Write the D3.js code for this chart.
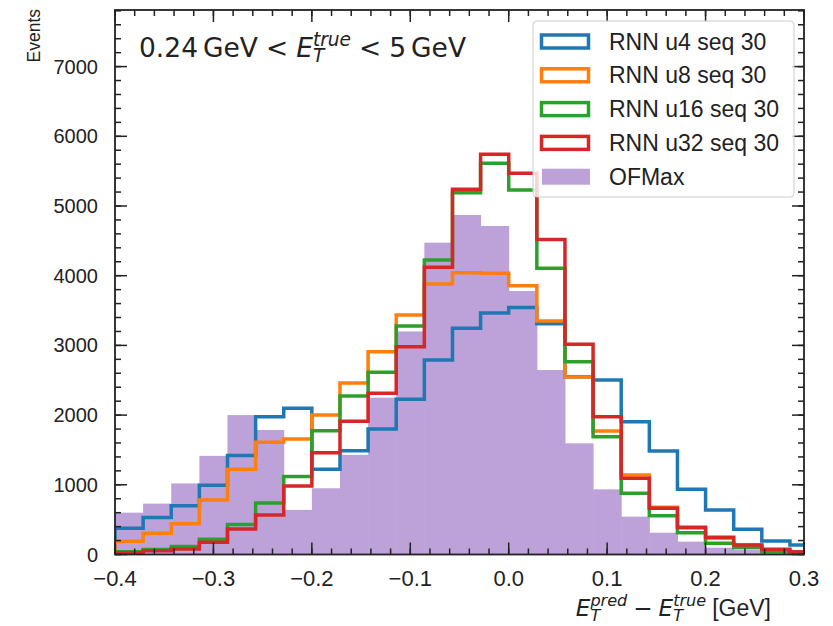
<!DOCTYPE html>
<html>
<head>
<meta charset="utf-8">
<script src="https://cdn.jsdelivr.net/npm/d3@7"></script>
<style>
  body { margin: 0; background: #fff; }
  svg text { fill: #222; }
</style>
</head>
<body>
<div id="chart"></div>
<script>
// bins: width 1/35 GeV starting at -0.4 (last one clipped at 0.3)
let binStart = -0.4;
let binWidth = 1 / 35;

let seriesNames = ["RNN u4 seq 30", "RNN u8 seq 30", "RNN u16 seq 30", "RNN u32 seq 30"];
let seriesColors = ["#1f77b4", "#ff7f0e", "#2ca02c", "#d62728"];

let u4 = [376, 530, 700, 995, 1420, 1977, 2097, 1222, 1490, 1800, 2226, 2790, 3245, 3465, 3545, 3310, 2550, 2504, 1906, 1485, 935, 638, 361, 194, 136];
let u8 = [190, 305, 440, 782, 1222, 1610, 1657, 2000, 2460, 2910, 3436, 3881, 4043, 4034, 3855, 3350, 2545, 1772, 1140, 677, 380, 232, 136, 60, 30];
let u16 = [40, 70, 115, 220, 430, 740, 1120, 1775, 2275, 2614, 3278, 4225, 5191, 5615, 5230, 4106, 2766, 1690, 878, 557, 313, 160, 100, 40, 20];
let u32 = [25, 55, 80, 175, 365, 567, 983, 1461, 1910, 2312, 2981, 4120, 5240, 5742, 5469, 4520, 3018, 1977, 1093, 663, 390, 247, 136, 75, 40];
let ofmax = [600, 730, 1020, 1415, 2000, 1786, 640, 950, 1430, 2250, 3200, 4474, 4871, 4713, 3780, 2647, 1595, 935, 543, 313, 184, 98, 70, 40, 20];

let xTicks = [-0.4, -0.3, -0.2, -0.1, 0.0, 0.1, 0.2, 0.3];
let yTicks = [0, 1000, 2000, 3000, 4000, 5000, 6000, 7000];

let W = 833, H = 626;
let m = {left: 115, right: 804, top: 10, bottom: 554.5};

let svg = d3.select("#chart").append("svg")
	.attr("width", W)
	.attr("height", H);

let x = d3.scaleLinear().domain([-0.4, 0.3]).range([m.left, m.right]);
let y = d3.scaleLinear().domain([0, 7812]).range([m.bottom, m.top]);

svg.append("defs").append("clipPath")
	.attr("id", "plotclip")
	.append("rect")
	.attr("x", m.left).attr("y", m.top)
	.attr("width", m.right - m.left).attr("height", m.bottom - m.top);

let plot = svg.append("g").attr("clip-path", "url(#plotclip)");

function edge(i) { return binStart + i * binWidth; }

// OFMax filled histogram
plot.selectAll(".ofmax")
	.data(ofmax)
	.enter()
	.append("rect")
	.attr("class", "ofmax")
	.attr("x", (d, i) => x(edge(i)))
	.attr("width", (d, i) => x(edge(i + 1)) - x(edge(i)) + 0.5)
	.attr("y", d => y(d))
	.attr("height", d => m.bottom - y(d))
	.attr("fill", "#bca2d8");

// step histograms
let line = d3.line().x(d => x(d[0])).y(d => y(d[1]));
[u4, u8, u16, u32].forEach(function (vals, k) {
	let pts = [[edge(0), 0]];
	vals.forEach(function (v, i) {
		pts.push([edge(i), v]);
		pts.push([edge(i + 1), v]);
	});
	pts.push([edge(vals.length), 0]);
	plot.append("path")
		.datum(pts)
		.attr("d", line)
		.attr("fill", "none")
		.attr("stroke", seriesColors[k])
		.attr("stroke-width", 3.5)
		.attr("stroke-linejoin", "miter");
});

// ticks (inward, all four sides)
let axisColor = "#222";
let tickG = svg.append("g").attr("stroke", axisColor).attr("stroke-width", 1.5);
let xMinor = d3.range(-0.4, 0.3001, 0.02);
let yMinor = d3.range(0, 7801, 200);

xMinor.forEach(function (t) {
	tickG.append("line").attr("x1", x(t)).attr("x2", x(t)).attr("y1", m.bottom).attr("y2", m.bottom - 6);
	tickG.append("line").attr("x1", x(t)).attr("x2", x(t)).attr("y1", m.top).attr("y2", m.top + 6);
});
xTicks.forEach(function (t) {
	tickG.append("line").attr("x1", x(t)).attr("x2", x(t)).attr("y1", m.bottom).attr("y2", m.bottom - 12);
	tickG.append("line").attr("x1", x(t)).attr("x2", x(t)).attr("y1", m.top).attr("y2", m.top + 12);
});
yMinor.forEach(function (t) {
	tickG.append("line").attr("x1", m.left).attr("x2", m.left + 6).attr("y1", y(t)).attr("y2", y(t));
	tickG.append("line").attr("x1", m.right).attr("x2", m.right - 6).attr("y1", y(t)).attr("y2", y(t));
});
yTicks.forEach(function (t) {
	tickG.append("line").attr("x1", m.left).attr("x2", m.left + 12).attr("y1", y(t)).attr("y2", y(t));
	tickG.append("line").attr("x1", m.right).attr("x2", m.right - 12).attr("y1", y(t)).attr("y2", y(t));
});

// frame
svg.append("rect")
	.attr("x", m.left).attr("y", m.top)
	.attr("width", m.right - m.left).attr("height", m.bottom - m.top)
	.attr("fill", "none")
	.attr("stroke", axisColor)
	.attr("stroke-width", 1.8);

// tick labels
let fmtX = d => (d < 0 ? "\u2212" : "") + Math.abs(d).toFixed(1);
svg.append("g").selectAll("text")
	.data(xTicks)
	.enter()
	.append("text")
	.attr("x", d => x(d))
	.attr("y", 586)
	.attr("text-anchor", "middle")
	.style("font-family", "Liberation Sans, Arial, sans-serif")
	.style("font-size", "22px")
	.text(fmtX);

svg.append("g").selectAll("text")
	.data(yTicks)
	.enter()
	.append("text")
	.attr("x", 98)
	.attr("y", d => y(d) + 7)
	.attr("text-anchor", "end")
	.style("font-family", "Liberation Sans, Arial, sans-serif")
	.style("font-size", "20px")
	.text(d => d);

// y label
svg.append("text")
	.attr("transform", "translate(40,9)rotate(-90)")
	.attr("text-anchor", "end")
	.style("font-family", "Liberation Sans, Arial, sans-serif")
	.style("font-size", "17.5px")
	.text("Events");

// math-like label as one text element with positioned tspans
function mathText(g, x0, baseline, size, pieces) {
	let txt = g.append("text");
	let cx = x0;
	pieces.forEach(function (p) {
		if (p.sub !== undefined) {
			let s = size * 0.7;
			let t1 = txt.append("tspan").attr("x", cx).attr("y", baseline - size * 0.42)
				.style("font-family", "DejaVu Sans").style("font-style", "italic")
				.style("font-size", s + "px").text(p.sup);
			let t2 = txt.append("tspan").attr("x", cx).attr("y", baseline + size * 0.2)
				.style("font-family", "DejaVu Sans").style("font-style", "italic")
				.style("font-size", s + "px").text(p.sub);
			cx += Math.max(t1.node().getComputedTextLength(), t2.node().getComputedTextLength()) + (p.gap || 0);
		} else {
			let t = txt.append("tspan").attr("x", cx).attr("y", baseline)
				.style("font-family", p.font || "DejaVu Sans")
				.style("font-style", p.italic ? "italic" : "normal")
				.style("font-size", size + "px")
				.text(p.text);
			cx += t.node().getComputedTextLength() + (p.gap || 0);
		}
	});
	return cx - x0;
}

// annotation
let ann = svg.append("g");
mathText(ann, 139, 57, 26.5, [
	{text: "0.24", gap: 5},
	{text: "GeV", gap: 8},
	{text: "<", gap: 8},
	{text: "E", italic: true, gap: 0},
	{sup: "true", sub: "T", gap: 8},
	{text: "<", gap: 8},
	{text: "5", gap: 5},
	{text: "GeV"}
]);

// x label (right aligned)
let xl = svg.append("g");
let w = mathText(xl, 0, 616, 23, [
	{text: "E", italic: true},
	{sup: "pred", sub: "T", gap: 6},
	{text: "\u2212", gap: 6},
	{text: "E", italic: true},
	{sup: "true", sub: "T", gap: 6},
	{text: "[GeV]", font: "Liberation Sans, Arial, sans-serif"}
]);
xl.attr("transform", "translate(" + (771 - w) + ",0)");

// legend
let leg = svg.append("g");
leg.append("rect")
	.attr("x", 533).attr("y", 21)
	.attr("width", 261).attr("height", 176)
	.attr("rx", 4)
	.attr("fill", "white").attr("fill-opacity", 0.8)
	.attr("stroke", "#cccccc").attr("stroke-width", 1);

let legNames = seriesNames.concat(["OFMax"]);
legNames.forEach(function (name, i) {
	let cy = 41.5 + i * 33.8;
	if (i < 4) {
		leg.append("rect")
			.attr("x", 541.5).attr("y", cy - 6.5)
			.attr("width", 47).attr("height", 13)
			.attr("fill", "none")
			.attr("stroke", seriesColors[i])
			.attr("stroke-width", 3.5);
	} else {
		leg.append("rect")
			.attr("x", 542).attr("y", cy - 8)
			.attr("width", 48).attr("height", 16)
			.attr("fill", "#bca2d8");
	}
	leg.append("text")
		.attr("x", 609).attr("y", cy + 8)
		.style("font-family", "Liberation Sans, Arial, sans-serif")
		.style("font-size", "23px")
		.text(name);
});
</script>
</body>
</html>
